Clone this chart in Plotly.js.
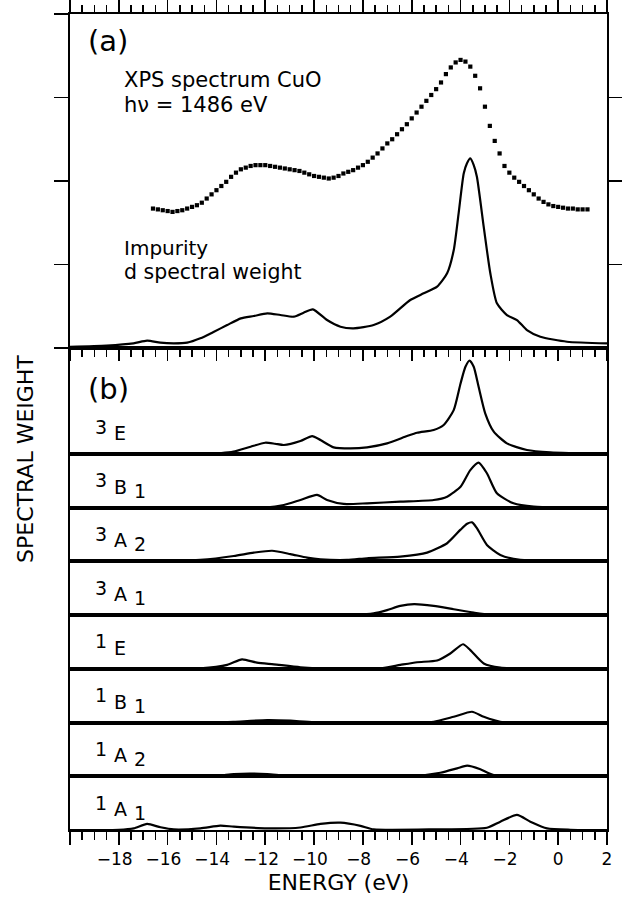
<!DOCTYPE html>
<html><head><meta charset="utf-8">
<script src="https://cdn.plot.ly/plotly-3.0.1.min.js"></script>
<style>html,body{margin:0;padding:0;background:#fff}#plot{width:623px;height:903px}</style>
</head><body><div id="plot"></div>
<script>
// ---- Panel (a): XPS spectrum of CuO (dots) ----
const E_XPS = [-16.6,-16.4,-16.2,-16.0,-15.8,-15.6,-15.4,-15.2,-15.0,-14.8,-14.6,-14.4,-14.2,-14.0,-13.8,-13.6,-13.4,-13.2,-13.0,-12.8,-12.6,-12.4,-12.2,-12.0,-11.8,-11.6,-11.4,-11.2,-11.0,-10.8,-10.6,-10.4,-10.2,-10.0,-9.8,-9.6,-9.4,-9.2,-9.0,-8.8,-8.6,-8.4,-8.2,-8.0,-7.8,-7.6,-7.4,-7.2,-7.0,-6.8,-6.6,-6.4,-6.2,-6.0,-5.8,-5.6,-5.4,-5.2,-5.0,-4.8,-4.6,-4.4,-4.2,-4.0,-3.8,-3.6,-3.4,-3.2,-3.0,-2.8,-2.6,-2.4,-2.2,-2.0,-1.8,-1.6,-1.4,-1.2,-1.0,-0.8,-0.6,-0.4,-0.2,0.0,0.2,0.4,0.6,0.8,1.0,1.2];
const W_XPS = [1.67,1.66,1.65,1.64,1.63,1.64,1.65,1.67,1.69,1.71,1.74,1.79,1.84,1.89,1.94,1.99,2.05,2.10,2.14,2.16,2.18,2.19,2.19,2.19,2.18,2.17,2.16,2.15,2.14,2.13,2.12,2.10,2.08,2.06,2.05,2.04,2.03,2.04,2.06,2.09,2.11,2.13,2.16,2.19,2.23,2.28,2.33,2.39,2.45,2.50,2.56,2.62,2.68,2.75,2.82,2.89,2.96,3.03,3.10,3.18,3.28,3.36,3.42,3.45,3.43,3.37,3.26,3.11,2.89,2.66,2.48,2.33,2.18,2.10,2.04,1.99,1.94,1.89,1.84,1.79,1.75,1.72,1.70,1.69,1.68,1.67,1.67,1.66,1.66,1.66];

// ---- Panel (a): impurity d spectral weight ----
const E_IMP = [-20,-18.5,-17.4,-16.84,-16.3,-15.75,-15.2,-14.66,-14.1,-13.56,-13.0,-12.47,-11.92,-11.38,-10.83,-10.43,-10.05,-9.47,-8.92,-8.38,-7.56,-6.88,-6.06,-5.51,-4.96,-4.55,-4.28,-4.08,-3.87,-3.74,-3.6,-3.46,-3.33,-3.05,-2.78,-2.51,-2.1,-1.69,-1.28,-0.73,0.36,2.0];
const W_IMP = [0.015,0.03,0.056,0.088,0.064,0.056,0.064,0.116,0.195,0.275,0.355,0.383,0.415,0.395,0.375,0.423,0.463,0.335,0.255,0.236,0.275,0.375,0.575,0.655,0.735,0.895,1.17,1.61,2.09,2.21,2.27,2.19,2.05,1.45,0.895,0.535,0.395,0.335,0.215,0.135,0.075,0.056];

// ---- Panel (b): partial spectral weights ----
const E_3E = [-20,-14.5,-13.8,-13.3,-12.6,-12.0,-11.6,-11.24,-10.56,-10.08,-9.74,-9.2,-8.51,-7.83,-7.01,-6.19,-5.78,-5.1,-4.69,-4.28,-4.0,-3.8,-3.63,-3.46,-3.26,-2.99,-2.64,-2.1,-1.28,-0.32,2];
const W_3E = [0,0.005,0.02,0.055,0.175,0.27,0.245,0.215,0.31,0.43,0.335,0.16,0.135,0.16,0.255,0.43,0.51,0.575,0.695,1.05,1.69,2.09,2.24,2.09,1.61,0.975,0.535,0.255,0.095,0.04,0.005];
const E_3B1 = [-20,-12,-11.24,-10.56,-9.88,-9.47,-8.79,-7.83,-6.47,-5.1,-4.55,-4.0,-3.6,-3.26,-2.92,-2.51,-1.83,-1.0,2];
const W_3B1 = [0,0.005,0.065,0.185,0.305,0.185,0.09,0.105,0.145,0.185,0.265,0.50,0.90,1.08,0.825,0.345,0.105,0.025,0];
const E_3A2 = [-20,-15.5,-14.66,-13.29,-12.47,-11.72,-10.97,-10.29,-9.74,-8.65,-7.83,-6.47,-5.37,-4.55,-4.0,-3.73,-3.53,-3.33,-2.92,-2.37,-1.55,2];
const W_3A2 = [0,0.01,0.035,0.13,0.21,0.255,0.175,0.09,0.05,0.035,0.075,0.115,0.21,0.435,0.76,0.90,0.935,0.795,0.395,0.155,0.035,0];
const E_3A1 = [-20,-8.2,-7.56,-7.01,-6.47,-5.9,-5.1,-4.28,-3.46,-2.78,2];
const W_3A1 = [0,0.005,0.04,0.12,0.22,0.265,0.22,0.14,0.06,0.01,0];
const E_1E = [-20,-14.66,-13.56,-12.95,-12.34,-11.65,-10.56,-9.2,-7.28,-6.47,-5.78,-4.96,-4.42,-3.9,-3.6,-3.05,-2.37,-1,2];
const W_1E = [0,0.015,0.095,0.23,0.15,0.11,0.04,0.005,0.015,0.095,0.16,0.2,0.37,0.59,0.45,0.13,0.03,0.005,0];
const E_1B1 = [-20,-14,-13.29,-11.92,-10.97,-10.0,-6,-5.1,-4.28,-3.53,-3.05,-2.37,2];
const W_1B1 = [0,0.005,0.02,0.06,0.045,0.01,0.005,0.02,0.14,0.26,0.14,0.02,0];
const E_1A2 = [-20,-14,-13.29,-11.92,-11.24,-10,-6,-4.83,-4.14,-3.73,-3.19,-2.64,2];
const W_1A2 = [0,0.01,0.055,0.055,0.02,0.005,0.005,0.085,0.19,0.255,0.17,0.03,0];
const E_1A1 = [-20,-18,-17.39,-16.84,-16.29,-15.75,-14.66,-13.84,-13.29,-11.92,-10.56,-9.74,-8.92,-8.1,-7.56,-5.1,-2.92,-2.37,-1.69,-1.14,-0.46,0.5,2];
const W_1A1 = [0,0.005,0.04,0.145,0.065,0.015,0.04,0.105,0.08,0.04,0.06,0.145,0.175,0.1,0.015,0.015,0.055,0.2,0.36,0.2,0.04,0.005,0];

const LABEL_SUP  = ['3','3','3','3','1','1','1','1'];
const LABEL_MAIN = ['E','B','A','A','E','B','A','A'];
const LABEL_SUB  = ['','1','2','1','','1','2','1'];
const TICK_VALS = [-20,-18,-16,-14,-12,-10,-8,-6,-4,-2,0,2];
const TICK_TEXT = ['','\u221218\u2002','\u221216\u2002','\u221214\u2002','\u221212\u2002','\u221210\u2002','\u22128\u2002','\u22126\u2002','\u22124\u2002','\u22122\u2002','0','2'];

const PANEL_E = [E_3E,E_3B1,E_3A2,E_3A1,E_1E,E_1B1,E_1A2,E_1A1];
const PANEL_W = [W_3E,W_3B1,W_3A2,W_3A1,W_1E,W_1B1,W_1A2,W_1A1];

// layout geometry (pixels)
const W = 623, H = 903;
const ML = 70, MR = 16, MT = 14, MB = 73;
const PH = H - MT - MB;           // 816
const PXU = 41.75;                // pixels per unit in panel (b)
const yA = [14, 348];
const yB = [348, 454, 507.7, 561.4, 615.1, 668.9, 722.6, 776.3, 830];
const toFrac = p => (H - MB - p) / PH;

const FONT = 'DejaVu Sans, sans-serif';
const axLine = {showline:true, linewidth:2, linecolor:'#000', mirror:true, showgrid:false, zeroline:false};
const LINE = {color:'#000', width:2.2, shape:'spline', smoothing:0.6};

const data = [];
const layout = {
  width: W, height: H,
  margin: {l:ML, r:MR, t:MT, b:MB, autoexpand:false},
  paper_bgcolor:'#fff', plot_bgcolor:'#fff',
  showlegend:false,
  font:{family:FONT, color:'#000', size:16},
  annotations: []
};

// panel (a)
data.push({x:E_XPS, y:W_XPS, xaxis:'x', yaxis:'y', type:'scatter', mode:'markers',
  marker:{symbol:'square', size:4.2, color:'#000'}});
data.push({x:E_IMP, y:W_IMP, xaxis:'x', yaxis:'y', type:'scatter', mode:'lines', line:LINE});

const MINOR = (dir, len) => ({ticks:dir, ticklen:len, tickwidth:1.5, tickcolor:'#000', tickmode:'linear', tick0:0, dtick:0.5});
layout.xaxis = Object.assign({}, axLine, {domain:[0,1], range:[-20,2], anchor:'y', side:'top',
  ticks:'outside', ticklen:12, tickwidth:1.7, tickcolor:'#000', tickmode:'linear', tick0:0, dtick:2,
  showticklabels:false, minor:MINOR('outside', 7)});
// ticks pointing down into panel (b) from the bottom edge of panel (a)
layout.xaxis11 = {overlaying:'x', side:'bottom', anchor:'y', range:[-20,2], showline:false, showgrid:false, zeroline:false,
  ticks:'outside', ticklen:12, tickwidth:1.7, tickcolor:'#000', tickmode:'linear', tick0:0, dtick:2,
  showticklabels:false, minor:MINOR('outside', 8)};
layout.yaxis = Object.assign({}, axLine, {domain:[toFrac(yA[1]), toFrac(yA[0])], range:[0,4], anchor:'x',
  ticks:'outside', ticklen:14, tickwidth:1.7, tickcolor:'#000', tickmode:'array', tickvals:[0,1,2,3,4],
  showticklabels:false});
layout.yaxis10 = {overlaying:'y', side:'right', anchor:'x', range:[0,4], showline:false, showgrid:false,
  zeroline:false, ticks:'outside', ticklen:14, tickwidth:1.7, tickcolor:'#000', tickmode:'array',
  tickvals:[1,2,3], showticklabels:false};
data.push({x:[-30], y:[-1], xaxis:'x', yaxis:'y10', mode:'markers', marker:{size:1, opacity:0}, hoverinfo:'skip'});
data.push({x:[-30], y:[-1], xaxis:'x11', yaxis:'y', mode:'markers', marker:{size:1, opacity:0}, hoverinfo:'skip'});

// panel (b)
for (let i = 0; i < 8; i++) {
  const n = i + 2;
  const top = yB[i], bot = yB[i+1];
  const hUnits = (bot - top) / PXU;
  data.push({x:PANEL_E[i], y:PANEL_W[i], xaxis:'x'+n, yaxis:'y'+n, type:'scatter', mode:'lines', line:LINE});
  const xa = Object.assign({}, axLine, {domain:[0,1], range:[-20,2], anchor:'y'+n, ticks:'', showticklabels:false});
  if (i === 7) {
    Object.assign(xa, {side:'bottom', ticks:'outside', ticklen:13, tickwidth:1.7, tickcolor:'#000',
      tickmode:'array', tickvals:TICK_VALS, ticktext:TICK_TEXT, showticklabels:true,
      tickfont:{family:FONT, size:17, color:'#000'},
      minor:MINOR('outside', 8),
      title:{text:'ENERGY (eV)', font:{family:FONT, size:22, color:'#000'}, standoff:6}});
  }
  layout['xaxis'+n] = xa;
  layout['yaxis'+n] = Object.assign({}, axLine, {domain:[toFrac(bot), toFrac(top)], range:[0,hUnits],
    anchor:'x'+n, ticks:'', showticklabels:false});

  const base = {xref:'x'+n+' domain', yref:'y'+n+' domain', x:0, y:0, xanchor:'left', yanchor:'middle',
    showarrow:false, font:{family:FONT, size:19, color:'#000'}};
  layout.annotations.push(Object.assign({}, base, {text:LABEL_SUP[i], xshift:23, yshift:27.5}));
  layout.annotations.push(Object.assign({}, base, {text:LABEL_MAIN[i], xshift:42, yshift:21}));
  if (LABEL_SUB[i]) layout.annotations.push(Object.assign({}, base, {text:LABEL_SUB[i], xshift:62, yshift:17}));
}

// panel texts
const txt = (t, xref, yref, xs, ys, size) => ({text:t, xref:xref, yref:yref, x:0, y:1, xanchor:'left', yanchor:'middle',
  xshift:xs, yshift:ys, showarrow:false, font:{family:FONT, size:size, color:'#000'}});
layout.annotations.push(txt('(a)', 'x domain', 'y domain', 16, -27, 29));
layout.annotations.push(txt('XPS spectrum CuO', 'x domain', 'y domain', 52, -66, 21));
layout.annotations.push(txt('h\u03bd = 1486 eV', 'x domain', 'y domain', 52, -91, 21));
layout.annotations.push(txt('Impurity', 'x domain', 'y domain', 52, -234, 20));
layout.annotations.push(txt('d spectral weight', 'x domain', 'y domain', 52, -257.5, 20.5));
layout.annotations.push(txt('(b)', 'x2 domain', 'y2 domain', 16, -41, 29));
layout.annotations.push({text:'SPECTRAL WEIGHT', xref:'paper', yref:'paper', x:0, y:toFrac(459), xshift:-45,
  xanchor:'center', yanchor:'middle', textangle:-90, showarrow:false, font:{family:FONT, size:22, color:'#000'}});

Plotly.newPlot('plot', data, layout, {displayModeBar:false, staticPlot:true});
</script>
</body></html>
